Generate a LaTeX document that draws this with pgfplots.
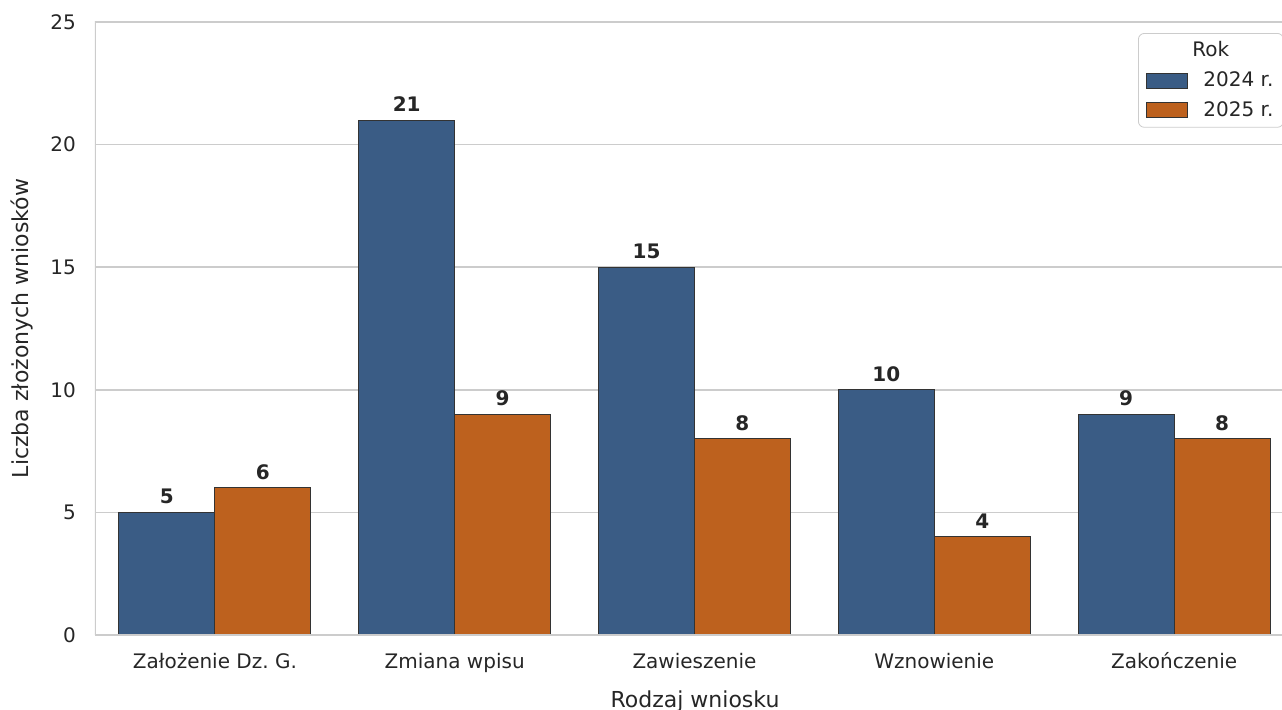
\documentclass[border=0pt]{standalone}
\usepackage{pgfplots}
\pgfplotsset{compat=1.18}
\usepackage{fontspec}
\setmainfont{DejaVu Sans}
\usetikzlibrary{calc}
\definecolor{bluebar}{HTML}{3A5C85}
\definecolor{orangebar}{HTML}{BD611E}
\definecolor{txt}{HTML}{262626}
\definecolor{gridc}{HTML}{CCCCCC}
\pgfplotsset{
  barlegend/.style={legend image code/.code={%
    \draw[##1, sharp corners] (1pt,-3.75pt) rectangle (21.5pt,3.75pt);
    \path[draw=none, fill=none] (0pt,0pt) rectangle (27.5pt,0pt);}},
}
\begin{document}
\begin{tikzpicture}
\begin{axis}[
  name=ax,
  scale only axis,
  width=593.5pt, height=306.5pt,
  ybar, bar width=0.4,
  xmin=-0.5, xmax=4.45,
  ymin=0, ymax=25,
  ytick={0,5,...,25},
  xtick={0,...,4},
  xticklabels={Założenie Dz.~G., Zmiana wpisu, Zawieszenie, Wznowienie, Zakończenie},
  major tick length=0pt,
  ymajorgrids, grid style={gridc, line width=0.75pt},
  axis line style={draw=none},
  /pgf/number format/assume math mode=true,
  tick label style={txt, font=\fontsize{10}{12}\selectfont},
  yticklabel style={xshift=-6pt},
  xticklabel style={anchor=base, yshift=-17pt},
  xlabel={Rodzaj wniosku},
  ylabel={Liczba złożonych wniosków},
  label style={txt, font=\fontsize{11}{13}\selectfont},
  xlabel style={at={(axis description cs:0.5055,-0.1175)}, anchor=base},
  ylabel style={at={(axis description cs:-0.05644,0.5)}, anchor=base},
  nodes near coords,
  nodes near coords style={txt, font=\bfseries\fontsize{10}{12}\selectfont, anchor=south, inner sep=0pt, yshift=4pt},
  legend style={at={(rel axis cs:0.8787,0.982)}, anchor=north west, draw=gridc,
    rounded corners=3pt, fill=white, font=\fontsize{10}{12}\selectfont, text=txt,
    inner xsep=3pt, inner ysep=2pt, row sep=2pt},
  legend cell align=left,
]
\addlegendimage{empty legend}
\addlegendentry{\hspace{-5.5pt}Rok}
\addplot[fill=bluebar, draw=black!80, line width=0.5pt, bar shift=-0.2, barlegend]
  coordinates {(0,5) (1,21) (2,15) (3,10) (4,9)};
\addlegendentry{2024 r.}
\addplot[fill=orangebar, draw=black!80, line width=0.5pt, bar shift=0.2, barlegend]
  coordinates {(0,6) (1,9) (2,8) (3,4) (4,8)};
\addlegendentry{2025 r.}
\draw[gridc, line width=0.75pt] (rel axis cs:1,1) -- (rel axis cs:0,1) -- (rel axis cs:0,0) -- (rel axis cs:1,0);
\end{axis}
\pgfresetboundingbox
\path[use as bounding box] ($(ax.south west)+(-47.5pt,-37.5pt)$) rectangle ($(ax.north east)+(0pt,11pt)$);
\end{tikzpicture}
\end{document}
